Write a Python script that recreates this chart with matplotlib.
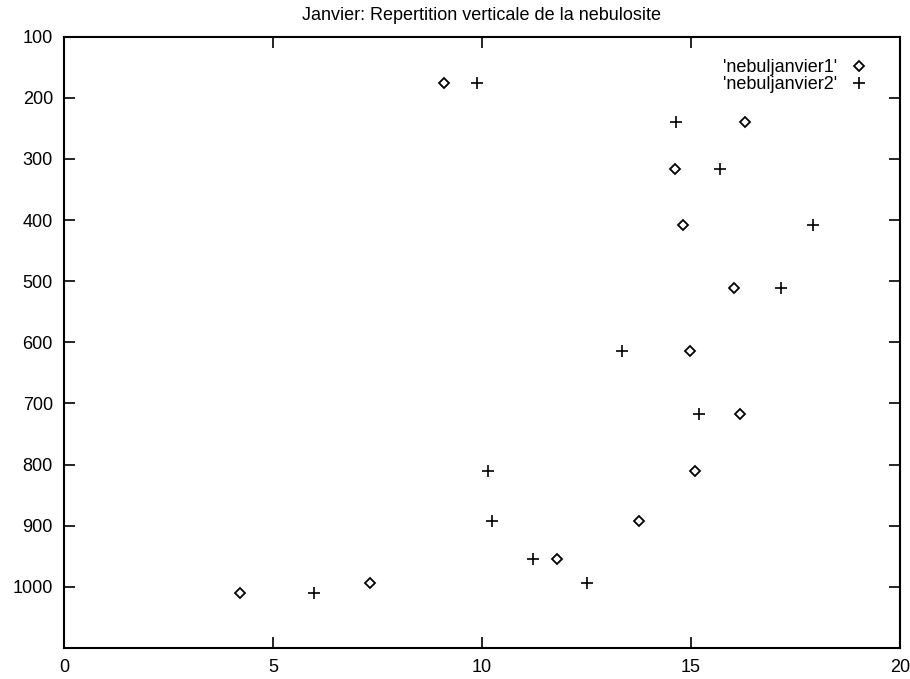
import matplotlib
matplotlib.use("Agg")
import matplotlib.pyplot as plt

# pressure-like levels (vertical axis, inverted)
levels = [176, 239, 316, 408, 511, 615, 718, 811, 892, 955, 994, 1010]

# nebulosity for the two series
nebul1 = [9.08, 16.30, 14.62, 14.82, 16.04, 14.98, 16.17, 15.10, 13.76, 11.79, 7.32, 4.21]
nebul2 = [9.87, 14.65, 15.69, 17.93, 17.15, 13.34, 15.18, 10.14, 10.24, 11.21, 12.52, 5.98]

x_ticks = [0, 5, 10, 15, 20]
y_ticks = [100, 200, 300, 400, 500, 600, 700, 800, 900, 1000]

plt.rcParams['font.family'] = ['Liberation Sans', 'DejaVu Sans']

fig = plt.figure(figsize=(9.10, 6.79), dpi=100)
ax = fig.add_axes([64 / 910, 1 - 648 / 679, (900 - 64) / 910, (648 - 36.6) / 679])

ax.plot(nebul1, levels, linestyle='none', marker='D', markersize=5,
        markerfacecolor='white', markeredgecolor='black', markeredgewidth=1.3,
        label="'nebuljanvier1'")
ax.plot(nebul2, levels, linestyle='none', marker='+', markersize=8,
        color='black', markeredgewidth=1.2, label="'nebuljanvier2'")

ax.set_xlim(0, 20)
ax.set_ylim(1100, 100)
ax.set_xticks(x_ticks)
ax.set_yticks(y_ticks)

ax.tick_params(direction='in', length=8, width=1.2, top=True, right=True,
               labelsize=13, pad=8)
for s in ax.spines.values():
    s.set_linewidth(1.5)

ax.set_title("Janvier: Repertition verticale de la nebulosite", fontsize=13, pad=12)

ax.legend(loc='upper right', frameon=False, markerfirst=False, fontsize=13,
          handlelength=1.0, handletextpad=0.7, labelspacing=0.0,
          borderaxespad=0.0, bbox_to_anchor=(0.97, 0.975))

fig.savefig("out.png", dpi=100)
